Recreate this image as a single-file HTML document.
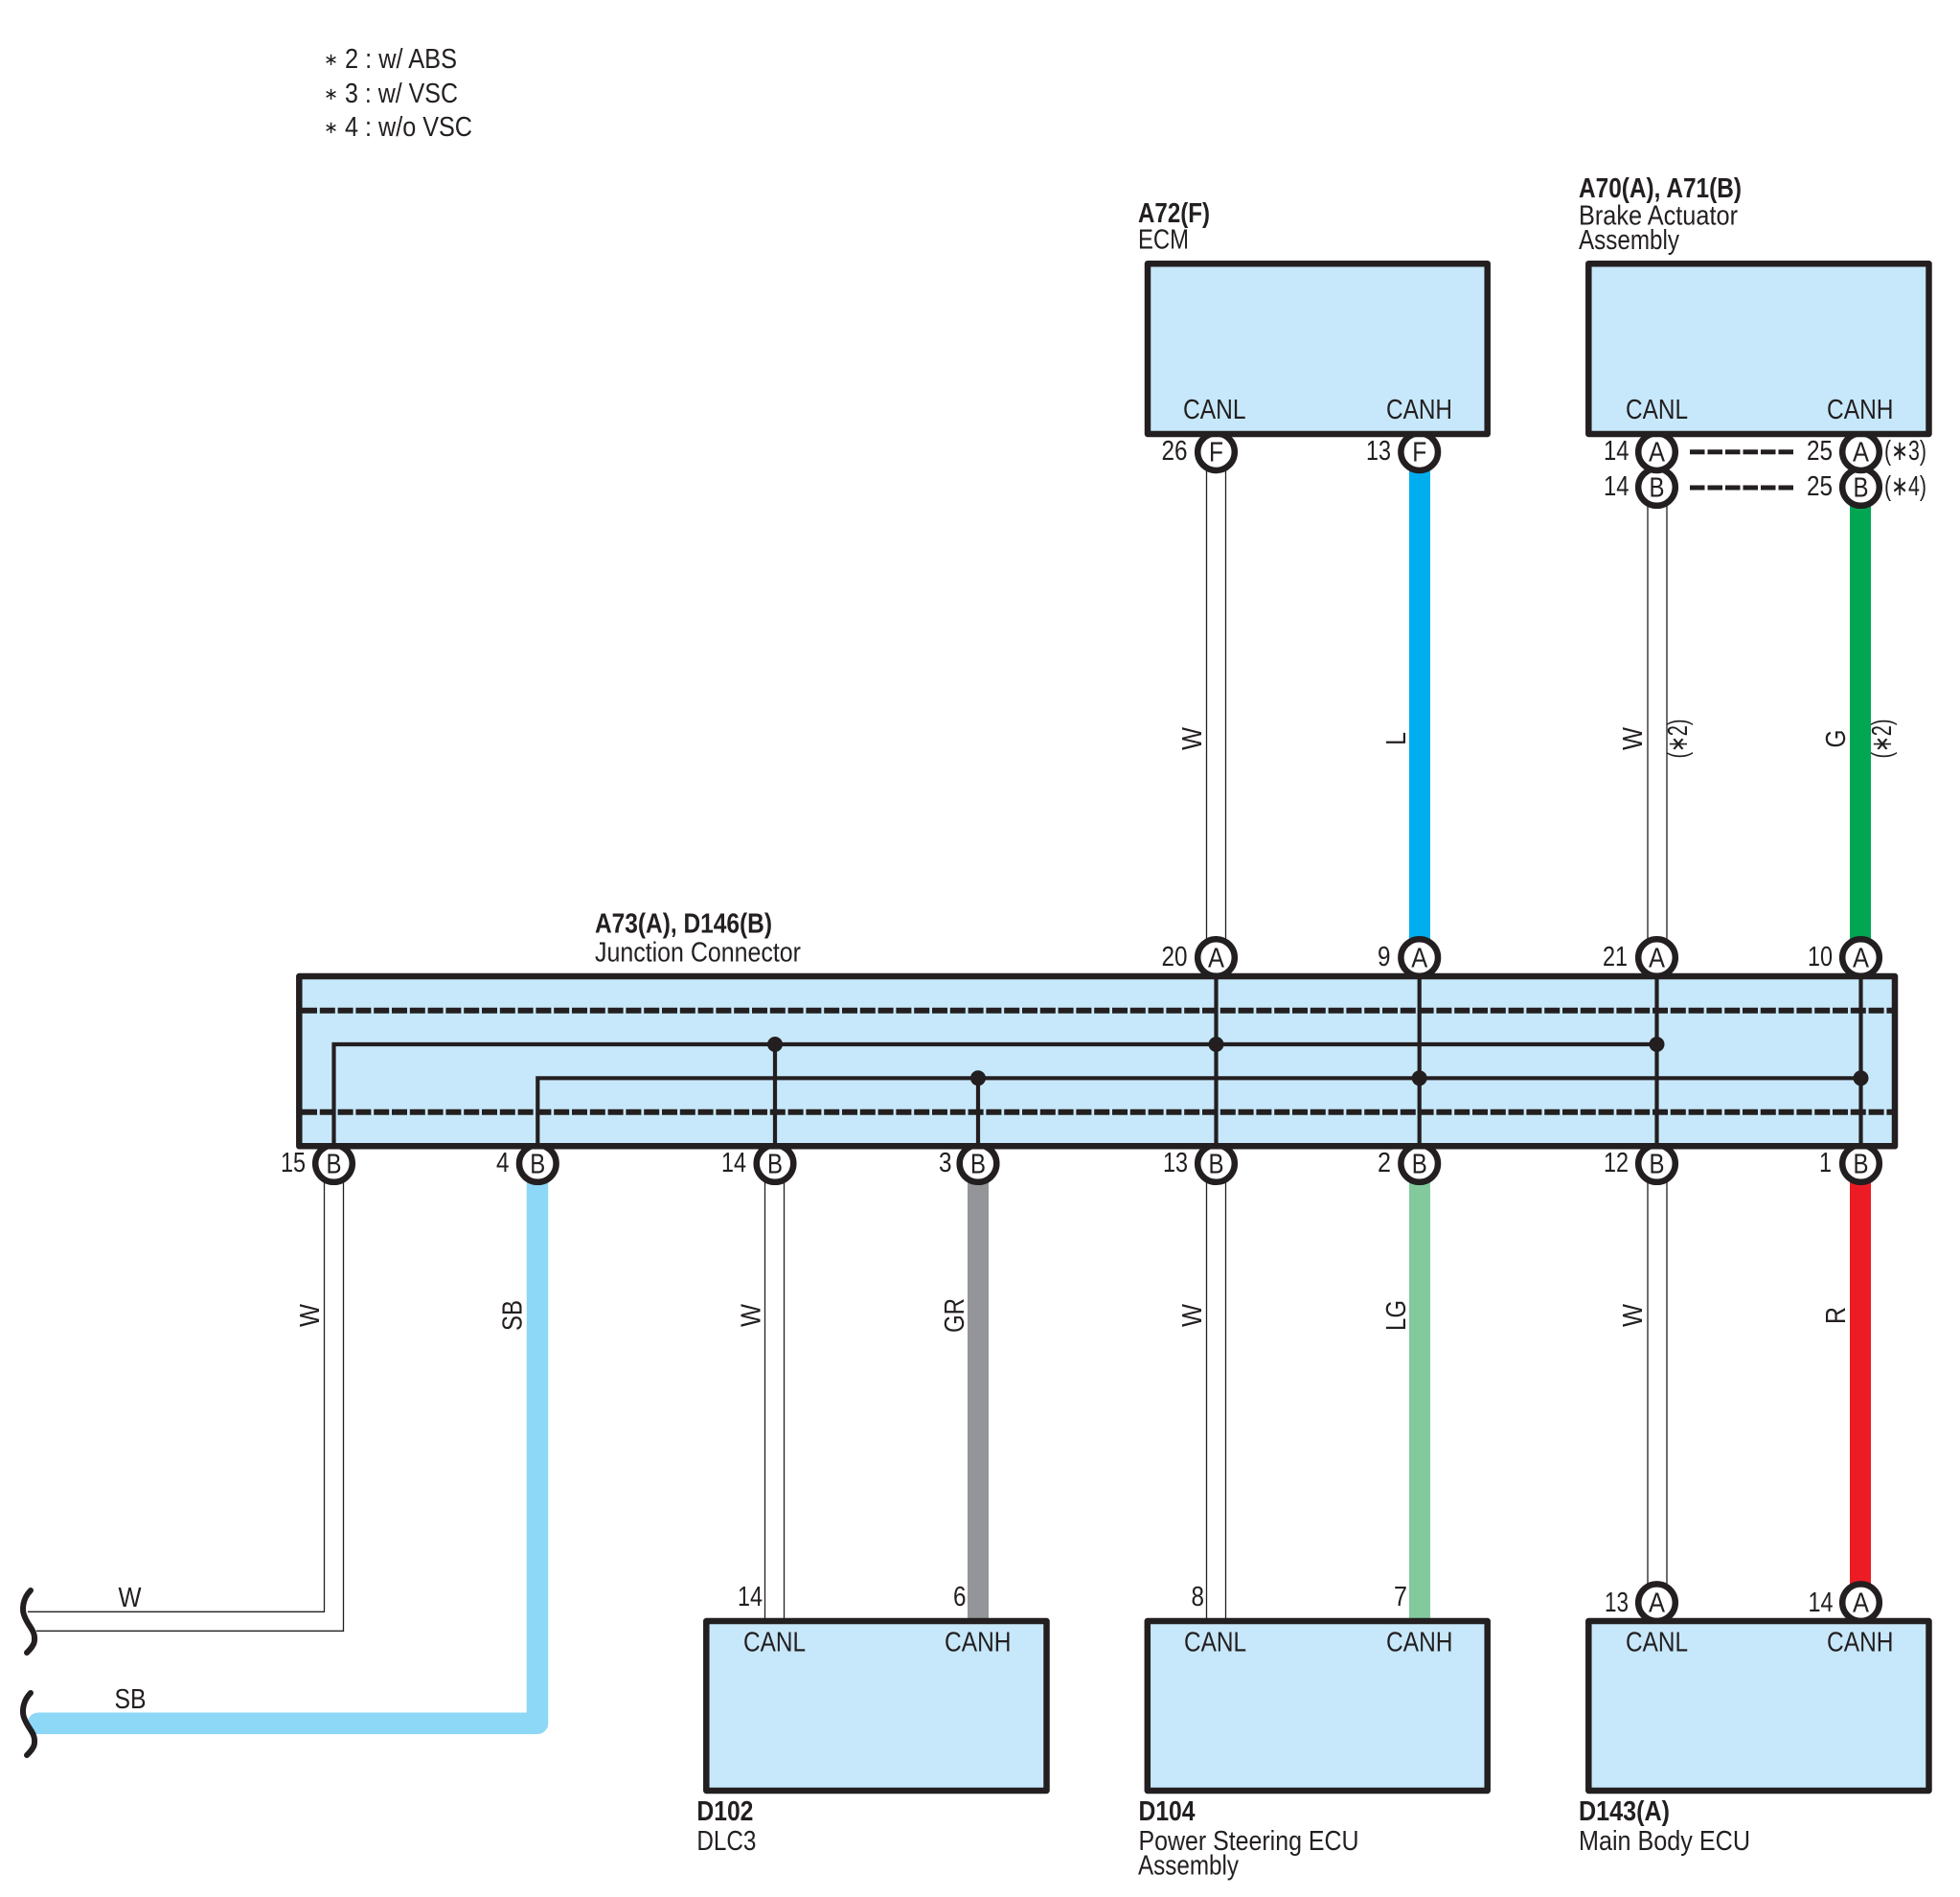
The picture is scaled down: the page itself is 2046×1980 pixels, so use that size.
<!DOCTYPE html>
<html><head><meta charset="utf-8"><style>
html,body{margin:0;padding:0;background:#fff}
svg{display:block}
text{font-family:"Liberation Sans",sans-serif;font-size:29px;fill:#231f20}
.b{font-weight:bold}
.c{text-anchor:middle}
</style></head><body>
<svg width="2046" height="1980" viewBox="0 0 2046 1980" xmlns="http://www.w3.org/2000/svg">
<rect width="2046" height="1980" fill="#fff"/>
<!-- legend -->
<text x="338" y="68" style="font-size:18px">∗</text><text x="360" y="71" textLength="117" lengthAdjust="spacingAndGlyphs">2 : w/ ABS</text>
<text x="338" y="104" style="font-size:18px">∗</text><text x="360" y="107" textLength="118" lengthAdjust="spacingAndGlyphs">3 : w/ VSC</text>
<text x="338" y="139" style="font-size:18px">∗</text><text x="360" y="142" textLength="133" lengthAdjust="spacingAndGlyphs">4 : w/o VSC</text>

<!-- thin white wires -->
<g stroke="#231f20" stroke-width="1.3" fill="none">
<path d="M1259.5 490V985M1279.5 490V985"/>
<path d="M1720 520V985M1740 520V985"/>
<path d="M1259.5 1230V1690M1279.5 1230V1690"/>
<path d="M798.5 1230V1690M818.5 1230V1690"/>
<path d="M1720 1230V1655M1740 1230V1655"/>
<path d="M338.5 1230V1682.3H29M358.5 1230V1702.3H38"/>
</g>
<!-- coloured wires -->
<g fill="none" stroke-linecap="butt">
<path d="M1482 490V985" stroke="#00aeef" stroke-width="22"/>
<path d="M1942 525V985" stroke="#00a651" stroke-width="22"/>
<path d="M1021 1230V1690" stroke="#939598" stroke-width="22"/>
<path d="M1482 1230V1690" stroke="#82ca9c" stroke-width="22"/>
<path d="M1942 1230V1660" stroke="#ed1c24" stroke-width="22"/>
<path d="M561 1230V1798.7H40" stroke="#8dd7f7" stroke-width="22.5" stroke-linejoin="round" stroke-linecap="round"/>
</g>
<!-- squiggles -->
<g fill="none" stroke="#231f20" stroke-width="6" stroke-linecap="round">
<path d="M32 1660C24 1668 22 1680 26 1688C30 1698 37 1702 36 1712C36 1717 31 1722 28 1725"/>
<path d="M32 1767C24 1775 22 1787 26 1795C30 1805 37 1809 36 1819C36 1824 31 1829 28 1832"/>
</g>

<!-- pin circles -->
<g fill="#fff" stroke="#231f20" stroke-width="6.5">
<circle cx="1269.5" cy="471.7" r="19.3"/><circle cx="1481.7" cy="471.7" r="19.3"/>
<circle cx="1729.5" cy="508.5" r="19.3"/><circle cx="1942.5" cy="508.5" r="19.3"/>
<circle cx="1729.5" cy="471.7" r="19.3"/><circle cx="1942.5" cy="471.7" r="19.3"/>
<circle cx="1269.5" cy="999.5" r="19.3"/><circle cx="1481.7" cy="999.5" r="19.3"/><circle cx="1729.5" cy="999.5" r="19.3"/><circle cx="1942.5" cy="999.5" r="19.3"/>
<circle cx="348.5" cy="1214.5" r="19.3"/><circle cx="561.3" cy="1214.5" r="19.3"/><circle cx="809" cy="1214.5" r="19.3"/><circle cx="1021" cy="1214.5" r="19.3"/>
<circle cx="1269.5" cy="1214.5" r="19.3"/><circle cx="1481.7" cy="1214.5" r="19.3"/><circle cx="1729.5" cy="1214.5" r="19.3"/><circle cx="1942.5" cy="1214.5" r="19.3"/>
<circle cx="1729.5" cy="1672.7" r="19.3"/><circle cx="1942.5" cy="1672.7" r="19.3"/>
</g>

<!-- boxes -->
<g fill="#c7e8fa" stroke="#231f20" stroke-width="6.5" stroke-linejoin="round">
<rect x="1198" y="275.2" width="354.7" height="177.8"/>
<rect x="1658.3" y="275.2" width="355.2" height="177.8"/>
<rect x="737.3" y="1692" width="355.2" height="177"/>
<rect x="1197.8" y="1692" width="354.9" height="177"/>
<rect x="1658.3" y="1692" width="355.2" height="177"/>
<rect x="312.3" y="1019" width="1665.7" height="177.3"/>
</g>
<!-- junction internals -->
<g fill="none" stroke="#231f20">
<path d="M315 1054.7H1976M315 1160.7H1976" stroke-width="6" stroke-dasharray="16 2.8"/>
<path d="M348.5 1196V1090H1730M561.3 1196V1125.3H1942.5" stroke-width="4.2"/>
<path d="M809 1090V1196M1021 1125.3V1196M1269.5 1020V1196M1481.7 1020V1196M1729.5 1020V1196M1942.5 1020V1196" stroke-width="4.2"/>
<path d="M1764 471.7H1873M1764 509H1873" stroke-width="5" stroke-dasharray="15.5 3"/>
</g>
<g fill="#231f20">
<circle cx="809" cy="1090" r="8"/><circle cx="1269.5" cy="1090" r="8"/><circle cx="1729.5" cy="1090" r="8"/>
<circle cx="1021" cy="1125.3" r="8"/><circle cx="1481.7" cy="1125.3" r="8"/><circle cx="1942.5" cy="1125.3" r="8"/>
</g>

<!-- component labels -->
<text class="b" x="1188" y="232" textLength="75" lengthAdjust="spacingAndGlyphs">A72(F)</text>
<text x="1188" y="259.5" textLength="53" lengthAdjust="spacingAndGlyphs">ECM</text>
<text class="b" x="1648" y="206" textLength="170" lengthAdjust="spacingAndGlyphs">A70(A), A71(B)</text>
<text x="1648" y="234.3" textLength="166" lengthAdjust="spacingAndGlyphs">Brake Actuator</text>
<text x="1648" y="260" textLength="105" lengthAdjust="spacingAndGlyphs">Assembly</text>
<text class="b" x="621" y="973.3" textLength="185" lengthAdjust="spacingAndGlyphs">A73(A), D146(B)</text>
<text x="621" y="1003.3" textLength="215" lengthAdjust="spacingAndGlyphs">Junction Connector</text>
<text class="b" x="727.4" y="1900" textLength="59" lengthAdjust="spacingAndGlyphs">D102</text>
<text x="727.4" y="1931" textLength="62" lengthAdjust="spacingAndGlyphs">DLC3</text>
<text class="b" x="1188.5" y="1900" textLength="59" lengthAdjust="spacingAndGlyphs">D104</text>
<text x="1188.5" y="1931" textLength="230" lengthAdjust="spacingAndGlyphs">Power Steering ECU</text>
<text x="1188" y="1956.7" textLength="105" lengthAdjust="spacingAndGlyphs">Assembly</text>
<text class="b" x="1648" y="1900" textLength="95" lengthAdjust="spacingAndGlyphs">D143(A)</text>
<text x="1648" y="1931" textLength="179" lengthAdjust="spacingAndGlyphs">Main Body ECU</text>

<!-- CANL / CANH -->
<text x="1235" y="437" textLength="65.5" lengthAdjust="spacingAndGlyphs">CANL</text>
<text x="1447" y="437" textLength="69" lengthAdjust="spacingAndGlyphs">CANH</text>
<text x="1697" y="437" textLength="65" lengthAdjust="spacingAndGlyphs">CANL</text>
<text x="1907" y="437" textLength="69.5" lengthAdjust="spacingAndGlyphs">CANH</text>
<text x="776" y="1723.5" textLength="65" lengthAdjust="spacingAndGlyphs">CANL</text>
<text x="986" y="1723.5" textLength="69.5" lengthAdjust="spacingAndGlyphs">CANH</text>
<text x="1236" y="1723.5" textLength="65" lengthAdjust="spacingAndGlyphs">CANL</text>
<text x="1447" y="1723.5" textLength="69.5" lengthAdjust="spacingAndGlyphs">CANH</text>
<text x="1697" y="1723.5" textLength="65" lengthAdjust="spacingAndGlyphs">CANL</text>
<text x="1907" y="1723.5" textLength="69.5" lengthAdjust="spacingAndGlyphs">CANH</text>

<!-- pin numbers -->
<text x="1212.5" y="480" textLength="27" lengthAdjust="spacingAndGlyphs">26</text>
<text x="1426" y="480" textLength="26" lengthAdjust="spacingAndGlyphs">13</text>
<text x="1674" y="480" textLength="26.5" lengthAdjust="spacingAndGlyphs">14</text>
<text x="1886" y="480" textLength="27" lengthAdjust="spacingAndGlyphs">25</text>
<text x="1674" y="517" textLength="26.5" lengthAdjust="spacingAndGlyphs">14</text>
<text x="1886" y="517" textLength="27" lengthAdjust="spacingAndGlyphs">25</text>
<text x="1967" y="480" textLength="44" lengthAdjust="spacingAndGlyphs">(∗3)</text>
<text x="1967" y="517" textLength="44" lengthAdjust="spacingAndGlyphs">(∗4)</text>
<text x="1212.5" y="1008" textLength="27" lengthAdjust="spacingAndGlyphs">20</text>
<text x="1438" y="1008" textLength="13.5" lengthAdjust="spacingAndGlyphs">9</text>
<text x="1673" y="1008" textLength="26" lengthAdjust="spacingAndGlyphs">21</text>
<text x="1887" y="1008" textLength="26" lengthAdjust="spacingAndGlyphs">10</text>
<text x="293" y="1223" textLength="26" lengthAdjust="spacingAndGlyphs">15</text>
<text x="518" y="1223" textLength="13.5" lengthAdjust="spacingAndGlyphs">4</text>
<text x="753" y="1223" textLength="26" lengthAdjust="spacingAndGlyphs">14</text>
<text x="980" y="1223" textLength="13.5" lengthAdjust="spacingAndGlyphs">3</text>
<text x="1214" y="1223" textLength="26" lengthAdjust="spacingAndGlyphs">13</text>
<text x="1438" y="1223" textLength="14" lengthAdjust="spacingAndGlyphs">2</text>
<text x="1674" y="1223" textLength="26" lengthAdjust="spacingAndGlyphs">12</text>
<text x="1899" y="1223" textLength="13" lengthAdjust="spacingAndGlyphs">1</text>
<text x="770" y="1676" textLength="26" lengthAdjust="spacingAndGlyphs">14</text>
<text x="995" y="1676" textLength="13.5" lengthAdjust="spacingAndGlyphs">6</text>
<text x="1243.5" y="1676" textLength="13.5" lengthAdjust="spacingAndGlyphs">8</text>
<text x="1455" y="1676" textLength="14" lengthAdjust="spacingAndGlyphs">7</text>
<text x="1675" y="1682" textLength="25" lengthAdjust="spacingAndGlyphs">13</text>
<text x="1887.5" y="1682" textLength="26" lengthAdjust="spacingAndGlyphs">14</text>

<!-- pin letters -->
<g>
<text class="c" x="1269.5" y="481.5" textLength="15" lengthAdjust="spacingAndGlyphs">F</text>
<text class="c" x="1481.7" y="481.5" textLength="15" lengthAdjust="spacingAndGlyphs">F</text>
<text class="c" x="1729.5" y="481.5" textLength="17" lengthAdjust="spacingAndGlyphs">A</text>
<text class="c" x="1942.5" y="481.5" textLength="17" lengthAdjust="spacingAndGlyphs">A</text>
<text class="c" x="1729.5" y="518.5" textLength="16" lengthAdjust="spacingAndGlyphs">B</text>
<text class="c" x="1942.5" y="518.5" textLength="16" lengthAdjust="spacingAndGlyphs">B</text>
<text class="c" x="1269.5" y="1009.5" textLength="17" lengthAdjust="spacingAndGlyphs">A</text>
<text class="c" x="1481.7" y="1009.5" textLength="17" lengthAdjust="spacingAndGlyphs">A</text>
<text class="c" x="1729.5" y="1009.5" textLength="17" lengthAdjust="spacingAndGlyphs">A</text>
<text class="c" x="1942.5" y="1009.5" textLength="17" lengthAdjust="spacingAndGlyphs">A</text>
<text class="c" x="348.5" y="1224.5" textLength="16" lengthAdjust="spacingAndGlyphs">B</text>
<text class="c" x="561.3" y="1224.5" textLength="16" lengthAdjust="spacingAndGlyphs">B</text>
<text class="c" x="809" y="1224.5" textLength="16" lengthAdjust="spacingAndGlyphs">B</text>
<text class="c" x="1021" y="1224.5" textLength="16" lengthAdjust="spacingAndGlyphs">B</text>
<text class="c" x="1269.5" y="1224.5" textLength="16" lengthAdjust="spacingAndGlyphs">B</text>
<text class="c" x="1481.7" y="1224.5" textLength="16" lengthAdjust="spacingAndGlyphs">B</text>
<text class="c" x="1729.5" y="1224.5" textLength="16" lengthAdjust="spacingAndGlyphs">B</text>
<text class="c" x="1942.5" y="1224.5" textLength="16" lengthAdjust="spacingAndGlyphs">B</text>
<text class="c" x="1729.5" y="1682.5" textLength="17" lengthAdjust="spacingAndGlyphs">A</text>
<text class="c" x="1942.5" y="1682.5" textLength="17" lengthAdjust="spacingAndGlyphs">A</text>
</g>

<!-- wire labels -->
<text class="c" transform="translate(1254 771) rotate(-90)" textLength="24" lengthAdjust="spacingAndGlyphs">W</text>
<text class="c" transform="translate(1467 771) rotate(-90)" textLength="14" lengthAdjust="spacingAndGlyphs">L</text>
<text class="c" transform="translate(1714 771) rotate(-90)" textLength="24" lengthAdjust="spacingAndGlyphs">W</text>
<text class="c" transform="translate(1761 771) rotate(-90)" textLength="41" lengthAdjust="spacingAndGlyphs">(∗2)</text>
<text class="c" transform="translate(1926 771) rotate(-90)" textLength="19" lengthAdjust="spacingAndGlyphs">G</text>
<text class="c" transform="translate(1974 771) rotate(-90)" textLength="41" lengthAdjust="spacingAndGlyphs">(∗2)</text>
<text class="c" transform="translate(333 1373) rotate(-90)" textLength="24" lengthAdjust="spacingAndGlyphs">W</text>
<text class="c" transform="translate(544.5 1373) rotate(-90)" textLength="32" lengthAdjust="spacingAndGlyphs">SB</text>
<text class="c" transform="translate(793.5 1373) rotate(-90)" textLength="24" lengthAdjust="spacingAndGlyphs">W</text>
<text class="c" transform="translate(1006 1373) rotate(-90)" textLength="36" lengthAdjust="spacingAndGlyphs">GR</text>
<text class="c" transform="translate(1254 1373) rotate(-90)" textLength="24" lengthAdjust="spacingAndGlyphs">W</text>
<text class="c" transform="translate(1467 1373) rotate(-90)" textLength="32" lengthAdjust="spacingAndGlyphs">LG</text>
<text class="c" transform="translate(1714 1373) rotate(-90)" textLength="24" lengthAdjust="spacingAndGlyphs">W</text>
<text class="c" transform="translate(1926 1373) rotate(-90)" textLength="18" lengthAdjust="spacingAndGlyphs">R</text>
<text x="123.5" y="1677" textLength="24" lengthAdjust="spacingAndGlyphs">W</text>
<text x="119.5" y="1783" textLength="33" lengthAdjust="spacingAndGlyphs">SB</text>
</svg>
</body></html>
